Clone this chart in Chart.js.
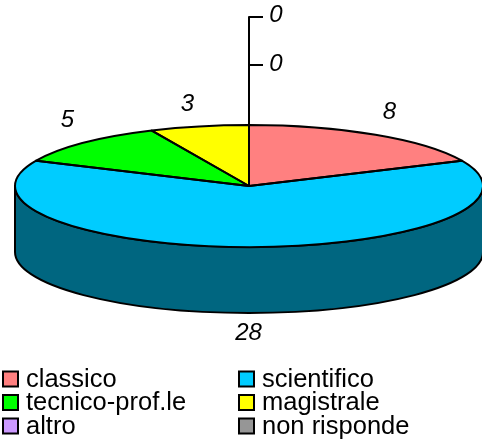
<!DOCTYPE html>
<html><head><meta charset="utf-8">
<style>html,body{margin:0;padding:0;background:#fff}#w{width:482px;height:441px;position:relative}</style>
<script src="https://cdn.jsdelivr.net/npm/chart.js@4"></script></head>
<body><div id="w"><canvas id="c" width="482" height="441"></canvas></div>
<script>
const categories = ['classico','scientifico','tecnico-prof.le','magistrale','altro','non risponde'];
const seriesValues = [8,28,5,3,0,0];
const sliceColors = ['#ff8080','#00ccff','#00ff00','#ffff00','#cc99ff','#969696'];
const wallColors = ['#804040','#006680','#008000','#808000','#664d80','#4b4b4b'];
const valueLabels = ['8','28','5','3','0','0'];

const FONT = '"Liberation Sans", Arial, sans-serif';
const squash = 61/234, depth = 66;
const labelPos = [[389.5,112],[248.5,333],[67.5,120],[187.5,104],[276,64],[276,15]];
const legendCols = [3,239], legendRows = [379.5,403,426.5];

const pie3d = {
  id:'pie3d',
  beforeDatasetDraw(chart){
    const ctx=chart.ctx, arcs=chart.getDatasetMeta(0).data, a0=arcs[0];
    const cx=a0.x, cy=a0.y, r=a0.outerRadius, ry=r*squash;
    ctx.save();
    arcs.forEach((a,i)=>{
      const s=Math.max(a.startAngle,0), e=Math.min(a.endAngle,Math.PI);
      if(e<=s) return;
      ctx.beginPath();
      ctx.ellipse(cx,cy,r,ry,0,s,e);
      ctx.ellipse(cx,cy+depth,r,ry,0,e,s,true);
      ctx.closePath();
      ctx.fillStyle=wallColors[i]; ctx.fill();
      ctx.lineWidth=2; ctx.strokeStyle='#000'; ctx.stroke();
    });
    ctx.restore();
    ctx.save();
    ctx.translate(0,cy); ctx.scale(1,squash); ctx.translate(0,-cy);
  },
  afterDatasetDraw(chart){
    const ctx=chart.ctx, arcs=chart.getDatasetMeta(0).data, a0=arcs[0];
    ctx.restore();
    const cx=a0.x, cy=a0.y, r=a0.outerRadius, ry=r*squash;
    ctx.save();
    ctx.strokeStyle='#000'; ctx.lineWidth=2; ctx.lineJoin='round';
    arcs.forEach(a=>{
      if(a.endAngle-a.startAngle<=0) return;
      ctx.beginPath();
      ctx.moveTo(cx,cy);
      ctx.ellipse(cx,cy,r,ry,0,a.startAngle,a.endAngle);
      ctx.closePath();
      ctx.stroke();
    });
    ctx.beginPath();
    ctx.moveTo(cx,cy); ctx.lineTo(cx,17); ctx.lineTo(263,17);
    ctx.moveTo(cx,65); ctx.lineTo(263,65);
    ctx.stroke();
    ctx.restore();
  },
  afterDraw(chart){
    const ctx=chart.ctx; ctx.save();
    ctx.fillStyle='#000'; ctx.textBaseline='middle';
    ctx.font='italic 24px '+FONT; ctx.textAlign='center';
    valueLabels.forEach((t,i)=>ctx.fillText(t,labelPos[i][0],labelPos[i][1]));
    ctx.textAlign='left'; ctx.font='25.5px '+FONT;
    categories.forEach((t,i)=>{
      const x=legendCols[i%2], y=legendRows[Math.floor(i/2)];
      ctx.fillStyle=sliceColors[i]; ctx.fillRect(x,y-8,15,15);
      ctx.strokeStyle='#000'; ctx.lineWidth=2; ctx.strokeRect(x,y-8,15,15);
      ctx.fillStyle='#000'; ctx.fillText(t,x+23,y);
    });
    ctx.restore();
  }
};
new Chart(document.getElementById('c'),{
  type:'pie',
  data:{labels:categories,datasets:[{data:seriesValues,backgroundColor:sliceColors,borderWidth:0,radius:234}]},
  options:{responsive:false,animation:false,rotation:0,
    layout:{padding:{left:16,bottom:69}},
    plugins:{legend:{display:false},tooltip:{enabled:false}}},
  plugins:[pie3d]
});
</script></body></html>
